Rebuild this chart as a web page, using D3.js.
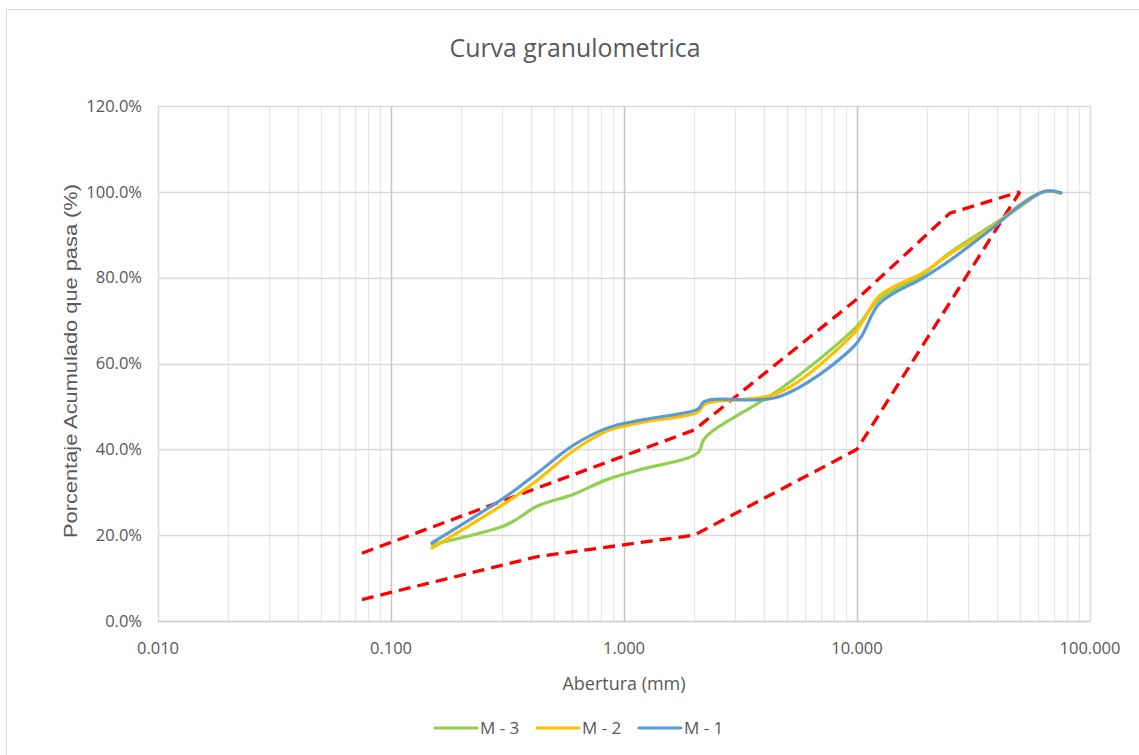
<!DOCTYPE html>
<html>
<head>
<meta charset="utf-8">
<script src="https://cdn.jsdelivr.net/npm/d3@7"></script>
<style>
  body { margin: 0; background: #fff; }
  text { font-family: "Open Sans", sans-serif; fill: #595959; }
</style>
</head>
<body>
<div id="chart"></div>
<script>
// sieve openings (mm)
const sieves = [0.15, 0.3, 0.425, 0.6, 0.85, 1.18, 2.0, 2.36, 4.75, 9.5, 12.5, 19, 25, 37.5, 50, 63, 75];

// % passing for each sample
const m3 = [17.8, 22.0, 26.8, 29.4, 33.0, 35.3, 38.6, 44.0, 54.3, 67.5, 75.0, 80.6, 85.8, 92.0, 96.5, 100, 99.8];
const m2 = [17.0, 27.0, 32.8, 39.5, 44.3, 46.2, 48.3, 51.0, 53.5, 66.5, 75.8, 81.0, 85.5, 91.5, 97.0, 100, 99.6];
const m1 = [18.2, 28.4, 34.5, 40.8, 45.0, 46.8, 49.0, 51.6, 52.5, 63.5, 74.0, 79.8, 84.0, 91.2, 96.8, 100, 99.8];

// specification limits
const upperSieves = [0.075, 0.425, 2.0, 10, 25, 50];
const upperLimit = [15.8, 31, 44.5, 75, 95, 100];
const lowerSieves = [0.075, 0.425, 2.0, 10, 50];
const lowerLimit = [5, 15, 20, 40, 100];

const seriesNames = ['M - 3', 'M - 2', 'M - 1'];
const seriesColors = ['#92d050', '#ffc000', '#5b9bd5'];
const xTicks = [0.01, 0.1, 1, 10, 100];
const yTicks = [0, 20, 40, 60, 80, 100, 120];

const width = 1139, height = 755;
const plot = { left: 158, right: 1090, top: 106, bottom: 621 };

const svg = d3.select('#chart').append('svg')
  .attr('width', width)
  .attr('height', height);

// chart frame
svg.append('rect')
  .attr('x', 6.5).attr('y', 9.5)
  .attr('width', 1140).attr('height', 760)
  .attr('fill', '#fff')
  .attr('stroke', '#d9d9d9');

const x = d3.scaleLog().domain([0.01, 100]).range([plot.left, plot.right]);
const y = d3.scaleLinear().domain([0, 120]).range([plot.bottom, plot.top]);

const g = svg.append('g');

// minor vertical grid (2..9 of each decade)
const minor = [];
for (let d = 0.01; d < 100; d *= 10) {
  for (let k = 2; k <= 9; k++) minor.push(d * k);
}
g.selectAll('line.minor')
  .data(minor)
  .join('line')
  .attr('class', 'minor')
  .attr('x1', d => Math.round(x(d)) + 0.5).attr('x2', d => Math.round(x(d)) + 0.5)
  .attr('y1', plot.top).attr('y2', plot.bottom)
  .attr('stroke', '#e6e6e6')
  .attr('stroke-width', 1.2);

// horizontal grid
g.selectAll('line.hgrid')
  .data(yTicks)
  .join('line')
  .attr('class', 'hgrid')
  .attr('x1', plot.left).attr('x2', plot.right)
  .attr('y1', d => Math.round(y(d)) + 0.5).attr('y2', d => Math.round(y(d)) + 0.5)
  .attr('stroke', '#d9d9d9')
  .attr('stroke-width', 1.5);

// major vertical grid
g.selectAll('line.major')
  .data(xTicks)
  .join('line')
  .attr('class', 'major')
  .attr('x1', d => Math.round(x(d)) + 0.5).attr('x2', d => Math.round(x(d)) + 0.5)
  .attr('y1', plot.top).attr('y2', plot.bottom)
  .attr('stroke', d => (d === 0.01 || d === 100) ? '#d9d9d9' : '#c4c4c4')
  .attr('stroke-width', 1.5);

// bottom axis line
g.append('line')
  .attr('x1', plot.left).attr('x2', plot.right)
  .attr('y1', plot.bottom + 0.5).attr('y2', plot.bottom + 0.5)
  .attr('stroke', '#d0d0d0')
  .attr('stroke-width', 1.5);

// tick labels
g.selectAll('text.ytick')
  .data(yTicks)
  .join('text')
  .attr('class', 'ytick')
  .attr('x', plot.left - 16)
  .attr('y', d => y(d))
  .attr('dy', '0.35em')
  .attr('text-anchor', 'end')
  .attr('font-size', 16.5)
  .text(d => d.toFixed(1) + '%');

g.selectAll('text.xtick')
  .data(xTicks)
  .join('text')
  .attr('class', 'xtick')
  .attr('x', d => x(d))
  .attr('y', plot.bottom + 27)
  .attr('dy', '0.35em')
  .attr('text-anchor', 'middle')
  .attr('font-size', 16.5)
  .text(d => d.toFixed(3));

// titles
svg.append('text')
  .attr('x', 575).attr('y', 57)
  .attr('text-anchor', 'middle')
  .attr('font-size', 26)
  .attr('textLength', 251)
  .attr('lengthAdjust', 'spacingAndGlyphs')
  .text('Curva granulometrica');

svg.append('text')
  .attr('x', 624).attr('y', 690)
  .attr('text-anchor', 'middle')
  .attr('font-size', 18)
  .attr('textLength', 123)
  .attr('lengthAdjust', 'spacingAndGlyphs')
  .text('Abertura (mm)');

svg.append('text')
  .attr('transform', 'translate(77,361) rotate(-90)')
  .attr('text-anchor', 'middle')
  .style('font-family', '"Liberation Sans", Arial, sans-serif')
  .attr('font-size', 18)
  .attr('textLength', 354)
  .attr('lengthAdjust', 'spacingAndGlyphs')
  .text('Porcentaje Acumulado que pasa (%)');

// limits (dashed red)
const limitLine = d3.line()
  .x(d => x(d[0]))
  .y(d => y(d[1]));

[[upperSieves, upperLimit], [lowerSieves, lowerLimit]].forEach(([xs, vs]) => {
  g.append('path')
    .datum(xs.map((s, i) => [s, vs[i]]))
    .attr('d', limitLine)
    .attr('fill', 'none')
    .attr('stroke', '#ff0000')
    .attr('stroke-width', 3.3)
    .attr('stroke-dasharray', '12,7');
});

// samples (smoothed like the spreadsheet)
const curveLine = d3.line()
  .x(d => x(d[0]))
  .y(d => y(d[1]))
  .curve(d3.curveCatmullRom.alpha(0));

[m3, m2, m1].forEach((vals, i) => {
  g.append('path')
    .datum(sieves.map((s, j) => [s, vals[j]]))
    .attr('d', curveLine)
    .attr('fill', 'none')
    .attr('stroke', seriesColors[i])
    .attr('stroke-width', 3.2)
    .attr('stroke-linecap', 'round');
});

// legend
const legendX = [435, 537, 639];
const legend = svg.selectAll('g.key')
  .data(seriesNames)
  .join('g')
  .attr('class', 'key')
  .attr('transform', (_, i) => `translate(${legendX[i]}, 728)`);

legend.append('line')
  .attr('x1', 0).attr('x2', 42)
  .attr('y1', 0).attr('y2', 0)
  .attr('stroke', (_, i) => seriesColors[i])
  .attr('stroke-width', 3.2)
  .attr('stroke-linecap', 'round');

legend.append('text')
  .attr('x', 45)
  .attr('y', 0)
  .attr('dy', '0.35em')
  .attr('font-size', 17)
  .text(d => d);
</script>
</body>
</html>
